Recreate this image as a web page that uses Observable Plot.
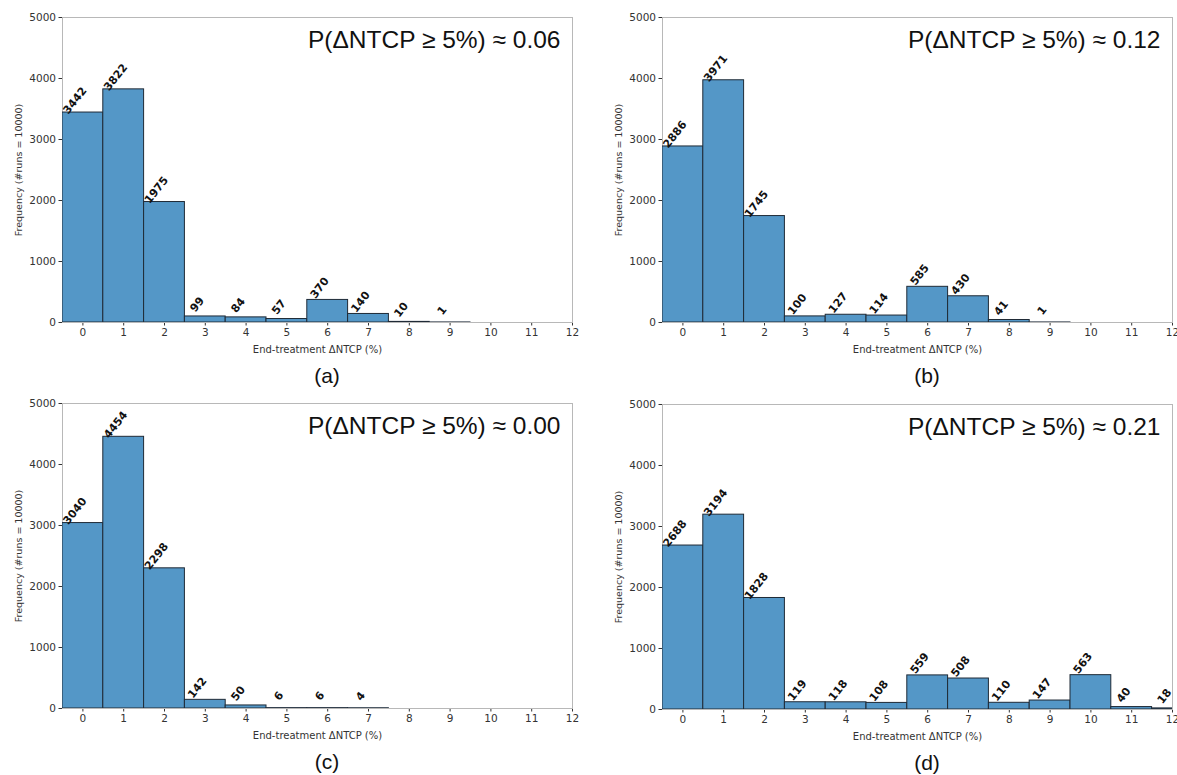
<!DOCTYPE html>
<html><head><meta charset="utf-8">
<script src="https://cdn.jsdelivr.net/npm/d3@7"></script>
<script src="https://cdn.jsdelivr.net/npm/@observablehq/plot@0.6"></script>
<style>
html,body{margin:0;padding:0;background:#fff;overflow:hidden;}
#root{position:relative;width:1177px;height:775px;overflow:hidden;background:#fff;}
.panel{position:absolute;width:600px;height:360px;}
.panel svg{overflow:visible;max-width:none !important;width:600px !important;height:360px !important;}
.plab{position:absolute;font-family:"Liberation Sans",Arial,sans-serif;font-size:21px;color:#111;transform:translate(-50%,-50%);white-space:nowrap;}
</style></head><body><div id="root"></div>
<script>
// ---- data ----
const bins = [0,1,2,3,4,5,6,7,8,9,10,11,12];
const countsA = [3442,3822,1975,99,84,57,370,140,10,1];
const countsB = [2886,3971,1745,100,127,114,585,430,41,1];
const countsC = [3040,4454,2298,142,50,6,6,4];
const countsD = [2688,3194,1828,119,118,108,559,508,110,147,563,40,18];
const probs = ["0.06","0.12","0.00","0.21"];
const panelLetters = ["(a)","(b)","(c)","(d)"];
const xTicks = [0,1,2,3,4,5,6,7,8,9,10,11,12];
const yTicks = [0,1000,2000,3000,4000,5000];
const xLabel = "End-treatment ΔNTCP (%)";
const yLabel = "Frequency (#runs = 10000)";

const allCounts = [countsA, countsB, countsC, countsD];
const positions = [{left:0,top:0},{left:600,top:0},{left:0,top:386},{left:600,top:387}];

function makePanel(counts, prob) {
  const data = counts.map((c, i) => ({bin: bins[i], count: c}));
  return Plot.plot({
    width: 600, height: 360,
    marginLeft: 62, marginRight: 28, marginTop: 17, marginBottom: 38,
    style: {fontFamily: "DejaVu Sans", fontSize: "10.5px", color: "#333", background: "transparent", overflow: "visible"},
    x: {domain: [-0.5, 12], ticks: xTicks, tickFormat: d => String(d), tickSize: 3.5, tickPadding: 3, label: null},
    y: {domain: [0, 5000], ticks: yTicks, tickFormat: d => String(d), tickSize: 3.5, tickPadding: 3, label: null},
    marks: [
      Plot.frame({stroke: "#b8b8b8", strokeWidth: 1}),
      Plot.rectY(data, {x1: d => d.bin - 0.5, x2: d => d.bin + 0.5, y1: 0, y2: "count",
        fill: "#5497c7", stroke: "#1f2a36", strokeWidth: 1, clip: true}),
      Plot.text(data.filter(d => d.count > 0), {x: "bin", y: "count", text: d => String(d.count),
        rotate: -52, textAnchor: "middle", lineAnchor: "middle", dx: -8, dy: -12,
        fontWeight: "bold", fontSize: 11, fill: "#111"}),
      Plot.text([`P(ΔNTCP ≥ 5%) ≈ ${prob}`], {frameAnchor: "top-right", dx: -12, dy: 23,
        lineAnchor: "middle", textAnchor: "end", fontSize: 24.5, fontFamily: "Liberation Sans", fill: "#111"}),
      Plot.text([xLabel], {frameAnchor: "bottom", dy: 27, lineAnchor: "middle", fontSize: 10, fill: "#333"}),
      Plot.text([yLabel], {frameAnchor: "left", dx: -44, rotate: -90, lineAnchor: "middle", textAnchor: "middle", fontSize: 9.5, fill: "#333"})
    ]
  });
}

const root = document.getElementById("root");
allCounts.forEach((counts, k) => {
  const div = document.createElement("div");
  div.className = "panel";
  div.style.left = positions[k].left + "px";
  div.style.top = positions[k].top + "px";
  div.appendChild(makePanel(counts, probs[k]));
  root.appendChild(div);
  const lab = document.createElement("div");
  lab.className = "plab";
  lab.textContent = panelLetters[k];
  lab.style.left = (positions[k].left + 327) + "px";
  lab.style.top = (positions[k].top + 376) + "px";
  root.appendChild(lab);
});
</script></body></html>
